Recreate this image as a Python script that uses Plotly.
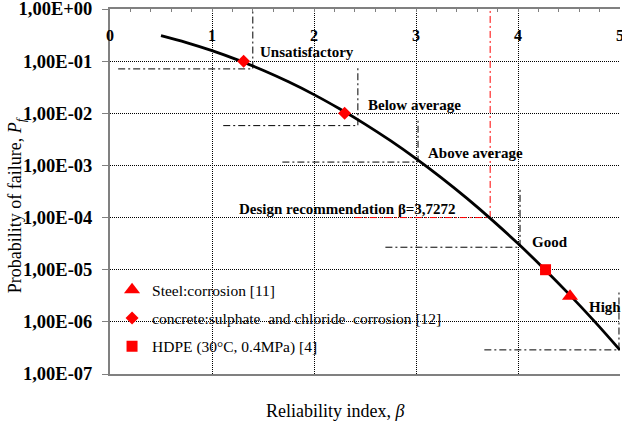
import plotly.graph_objects as go

# ---------------- data ----------------
curve_beta = [0.5, 0.75, 1.0, 1.25, 1.5, 1.75, 2.0, 2.25, 2.5, 2.75, 3.0,
              3.25, 3.5, 3.75, 4.0, 4.25, 4.5, 4.75, 5.0]
curve_pf = [0.3085, 0.2266, 0.1587, 0.1056, 0.0668, 0.0401, 0.0228, 0.0122,
            0.00621, 0.00298, 0.00135, 5.77e-4, 2.33e-4, 8.84e-5, 3.17e-5,
            1.07e-5, 3.40e-6, 1.02e-6, 2.87e-7]

steel_beta = [4.51]
steel_pf = [3.1e-6]
concrete_beta = [1.31, 2.30]
concrete_pf = [0.1, 0.01]
hdpe_beta = [4.27]
hdpe_pf = [1.0e-5]

# staircase dash-dot lines (category limits)
band_beta_start = [0.08, 1.11, 1.69, 2.70, 3.67]
band_beta_end = [1.40, 2.43, 3.02, 4.02, 4.99]
band_pf = [0.071, 0.0058, 0.00116, 2.7e-5, 2.9e-7]
band_pf_top = [1.0, 0.077, 0.0073, 3.4e-4, 3.8e-6]

design_beta = 3.7272
design_pf = 1e-4
design_beta_start = 2.40
design_pf_top = 1.0

band_labels = ["Unsatisfactory", "Below average", "Above average",
               "Design recommendation β=3,7272", "Good", "High"]
band_label_beta = [1.45, 2.51, 3.10, 1.245, 4.12, 4.68]
band_label_logpf = [-0.834, -1.84, -2.77, -3.83, -4.46, -5.72]

x_ticks = [0, 1, 2, 3, 4, 5]
y_tickvals = [1e0, 1e-1, 1e-2, 1e-3, 1e-4, 1e-5, 1e-6, 1e-7]
y_ticktext = ["1,00E+00", "1,00E-01", "1,00E-02", "1,00E-03",
              "1,00E-04", "1,00E-05", "1,00E-06", "1,00E-07"]

FONT = "Liberation Serif"
GRAY = "#808080"

fig = go.Figure()

# band lines
bx, by = [], []
for s, e, p, t in zip(band_beta_start, band_beta_end, band_pf, band_pf_top):
    bx += [s, e, e, None]
    by += [p, p, t, None]
fig.add_trace(go.Scatter(x=bx, y=by, mode="lines", showlegend=False,
                         line=dict(color="black", width=1, dash="7px,3px,2px,3px"),
                         hoverinfo="skip"))
fig.add_trace(go.Scatter(x=[design_beta_start, design_beta, design_beta],
                         y=[design_pf, design_pf, design_pf_top],
                         mode="lines", showlegend=False,
                         line=dict(color="red", width=1, dash="7px,3px,2px,3px"),
                         hoverinfo="skip"))

# main curve
fig.add_trace(go.Scatter(x=curve_beta, y=curve_pf, mode="lines", showlegend=False,
                         line=dict(color="black", width=2.8, shape="spline")))

fig.add_trace(go.Scatter(x=steel_beta, y=steel_pf, mode="markers",
                         name="Steel:corrosion [11]", legendgroup="a",
                         marker=dict(symbol="triangle-up", size=14, color="red")))
fig.add_trace(go.Scatter(x=concrete_beta, y=concrete_pf, mode="markers",
                         name="concrete:sulphate\u00a0 and chloride\u00a0 corrosion [12]",
                         legendgroup="b",
                         marker=dict(symbol="diamond", size=10, color="red")))
fig.add_trace(go.Scatter(x=hdpe_beta, y=hdpe_pf, mode="markers",
                         name="HDPE (30°C, 0.4MPa) [4]", legendgroup="c",
                         marker=dict(symbol="square", size=11, color="red")))

for t, bx_, ly in zip(band_labels, band_label_beta, band_label_logpf):
    fig.add_annotation(x=bx_, y=ly, xref="x", yref="y", text="<b>" + t + "</b>",
                       showarrow=False, xanchor="left", yanchor="middle",
                       font=dict(family=FONT, size=15, color="black"))

fig.add_annotation(x=0.441, y=-0.101, xref="paper", yref="paper",
                   text="Reliability index, <i>β</i>", showarrow=False,
                   xanchor="center", yanchor="middle",
                   font=dict(family=FONT, size=18, color="black"))
fig.add_annotation(x=-0.184, y=0.463, xref="paper", yref="paper",
                   text="Probability of failure, <i>P</i><sub><i>f</i></sub>",
                   showarrow=False, textangle=-90,
                   xanchor="center", yanchor="middle",
                   font=dict(family=FONT, size=18, color="black"))

fig.update_layout(
    width=622, height=430,
    margin=dict(l=110, r=2, t=9, b=56, autoexpand=False),
    paper_bgcolor="white", plot_bgcolor="white",
    font=dict(family=FONT, color="black"),
    showlegend=True,
    legend=dict(x=0.004, y=0.276, xanchor="left", yanchor="top",
                bgcolor="rgba(0,0,0,0)", borderwidth=0,
                tracegroupgap=5,
                font=dict(family=FONT, size=15.5, color="black")),
    xaxis=dict(range=[0, 5], side="top", tickvals=x_ticks,
               ticks="inside", ticklen=3, tickcolor=GRAY, tickwidth=1,
               minor=dict(dtick=0.2, ticks="inside", ticklen=3, tickcolor=GRAY, showgrid=False),
               ticklabelposition="inside", ticklabeloverflow="allow",
               ticklabelstandoff=18, automargin=False,
               tickfont=dict(family=FONT, size=16, color="black", weight="bold"),
               showline=True, linecolor=GRAY, linewidth=2, mirror=True,
               showgrid=True, gridcolor="black", gridwidth=1, griddash="1px,1px",
               zeroline=False),
    xaxis2=dict(range=[0, 5], side="top", overlaying="x", anchor="y",
                tickvals=x_ticks, ticks="outside", ticklen=3, tickcolor=GRAY,
                minor=dict(dtick=0.2, ticks="outside", ticklen=3, tickcolor=GRAY, showgrid=False),
                showticklabels=False, showgrid=False, showline=False, zeroline=False,
                automargin=False),
    yaxis=dict(type="log", range=[-7, 0], tickvals=y_tickvals, ticktext=y_ticktext,
               ticks="outside", ticklen=6, tickcolor=GRAY,
               ticklabelstandoff=6, ticklabeloverflow="allow", automargin=False,
               tickfont=dict(family=FONT, size=18.5, color="black", weight="bold"),
               showline=True, linecolor=GRAY, linewidth=2,
               showgrid=True, gridcolor="black", gridwidth=1, griddash="1px,1px",
               zeroline=False),
)

fig.write_html("out.html")
